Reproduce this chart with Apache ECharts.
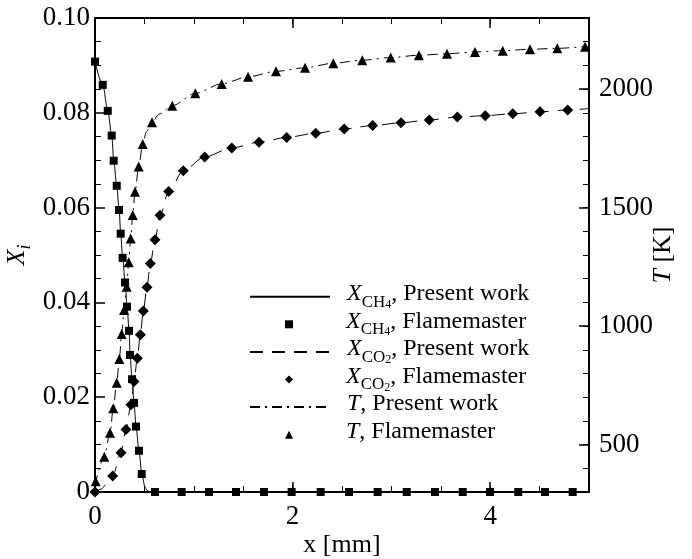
<!DOCTYPE html>
<html><head><meta charset="utf-8">
<script src="https://cdn.jsdelivr.net/npm/echarts@6/dist/echarts.min.js"></script>
<style>html,body{margin:0;padding:0;background:#fff}#c{width:692px;height:559px}</style>
</head><body><div id="c"></div>
<script>
// ---- data (x in mm) ----
const ch4PresentX = [0, 0.08, 0.13, 0.17, 0.19, 0.22, 0.245, 0.26, 0.28, 0.305, 0.325, 0.345, 0.355, 0.375, 0.395, 0.415, 0.445, 0.475, 0.505, 0.53, 0.56, 5];
const ch4PresentY = [0.0908, 0.0858, 0.0803, 0.0751, 0.0699, 0.0646, 0.0594, 0.0545, 0.0494, 0.0441, 0.0390, 0.0340, 0.0289, 0.0238, 0.0188, 0.0138, 0.0087, 0.0037, 0.0011, 0.0003, 0, 0];

const ch4FmX = [0, 0.078, 0.129, 0.169, 0.189, 0.22, 0.243, 0.26, 0.28, 0.304, 0.324, 0.344, 0.354, 0.375, 0.395, 0.415, 0.445, 0.473, 0.607, 0.877, 1.154, 1.427, 1.71, 1.99, 2.284, 2.571, 2.861, 3.155, 3.441, 3.722, 3.998, 4.284, 4.555, 4.835];
const ch4FmY = [0.0908, 0.0859, 0.0804, 0.0752, 0.0699, 0.0646, 0.0595, 0.0545, 0.0494, 0.0442, 0.0391, 0.0340, 0.0289, 0.0238, 0.0188, 0.0138, 0.0087, 0.0038, 0, 0, 0, 0, 0, 0, 0, 0, 0, 0, 0, 0, 0, 0, 0, 0];

const co2PresentX = [0, 0.06, 0.12, 0.179, 0.263, 0.314, 0.364, 0.395, 0.428, 0.459, 0.489, 0.526, 0.56, 0.607, 0.658, 0.746, 0.894, 1.11, 1.384, 1.66, 1.94, 2.234, 2.523, 2.81, 3.097, 3.383, 3.667, 3.95, 4.228, 4.504, 4.784, 5];
const co2PresentY = [0, 0.0006, 0.0017, 0.0034, 0.0083, 0.0132, 0.0184, 0.0233, 0.0282, 0.0332, 0.0382, 0.0432, 0.0482, 0.0532, 0.0584, 0.0634, 0.0678, 0.0707, 0.0726, 0.0738, 0.0748, 0.0757, 0.0766, 0.0773, 0.0779, 0.0785, 0.0791, 0.0794, 0.0798, 0.0802, 0.0806, 0.0809];

const co2FmX = [0, 0.179, 0.263, 0.314, 0.364, 0.395, 0.428, 0.459, 0.489, 0.526, 0.56, 0.607, 0.658, 0.746, 0.894, 1.11, 1.384, 1.66, 1.94, 2.234, 2.523, 2.81, 3.097, 3.383, 3.667, 3.95, 4.228, 4.504, 4.784];
const co2FmY = [0, 0.0034, 0.0083, 0.0132, 0.0184, 0.0233, 0.0282, 0.0332, 0.0382, 0.0432, 0.0482, 0.0532, 0.0584, 0.0634, 0.0678, 0.0707, 0.0726, 0.0738, 0.0748, 0.0757, 0.0766, 0.0773, 0.0779, 0.0785, 0.0791, 0.0794, 0.0798, 0.0802, 0.0806];

const tPresentX = [0, 0.094, 0.152, 0.185, 0.22, 0.246, 0.27, 0.294, 0.321, 0.341, 0.361, 0.382, 0.405, 0.442, 0.483, 0.52, 0.577, 0.65, 0.782, 1.015, 1.282, 1.549, 1.832, 2.126, 2.412, 2.705, 2.993, 3.279, 3.563, 3.846, 4.127, 4.403, 4.679, 5];
const tPresentY = [330, 449, 550, 653, 761, 861, 967, 1068, 1166, 1269, 1370, 1469, 1567, 1673, 1768, 1820, 1860, 1895, 1930, 1982, 2022, 2052, 2075, 2090, 2109, 2122, 2133, 2143, 2149, 2157, 2162, 2168, 2172, 2181];

const tFmX = [0.007, 0.094, 0.152, 0.185, 0.22, 0.246, 0.27, 0.294, 0.321, 0.341, 0.361, 0.382, 0.405, 0.442, 0.483, 0.577, 0.782, 1.015, 1.282, 1.549, 1.832, 2.126, 2.412, 2.705, 2.993, 3.279, 3.563, 3.846, 4.127, 4.403, 4.679, 4.96];
const tFmY = [345, 449, 550, 653, 761, 861, 967, 1068, 1166, 1269, 1370, 1469, 1567, 1673, 1768, 1860, 1930, 1982, 2022, 2052, 2075, 2090, 2109, 2122, 2133, 2143, 2149, 2157, 2162, 2168, 2172, 2179];

const xMajorTicks = [0, 2, 4];
const tMajorTicks = [500, 1000, 1500, 2000];

const seriesNames = ['ch4Present', 'ch4Fm', 'co2Present', 'co2Fm', 'tPresent', 'tFm'];
const legendLabels = {
  ch4Present: '{i|X}{s|CH}{ss|4}{t|, Present work}',
  ch4Fm: '{i|X}{s|CH}{ss|4}{t|, Flamemaster}',
  co2Present: '{i|X}{s|CO}{ss|2}{t|, Present work}',
  co2Fm: '{i|X}{s|CO}{ss|2}{t|, Flamemaster}',
  tPresent: '{i|T}{t|, Present work}',
  tFm: '{i|T}{t|, Flamemaster}'
};
const legendIsLine = [true, false, true, false, true, false];

const zip = (xs, ys) => xs.map((x, i) => [x, ys[i]]);
const FONT = 'Liberation Serif';
const black = '#000';

const chart = echarts.init(document.getElementById('c'), null, {renderer: 'canvas'});

const tickFont = {fontFamily: FONT, fontSize: 27, color: black};
const frameLine = () => ({show: true, onZero: false, lineStyle: {color: black, width: 2, opacity: 1}});
const hiddenLine = () => ({show: false, onZero: false});
const minorT = (len) => ({show: true, inside: true, length: len, lineStyle: {color: black, width: 1, opacity: 1}});
const majorT = (vals) => ({show: true, inside: true, length: 10, customValues: vals, lineStyle: {color: black, width: 1.5, opacity: 1}});

const legendRich = {
  i: {fontFamily: FONT, fontSize: 24, fontStyle: 'italic', color: black, verticalAlign: 'top', lineHeight: 30},
  t: {fontFamily: FONT, fontSize: 24, color: black, verticalAlign: 'top', lineHeight: 30},
  s: {fontFamily: FONT, fontSize: 17, color: black, verticalAlign: 'top', padding: [12, 0, 0, 0]},
  ss: {fontFamily: FONT, fontSize: 12, color: black, verticalAlign: 'top', padding: [17, 0, 0, 0]}
};
const rowCenter0 = 296.7, rowStep = 27.6, rowH = 30;
const legends = seriesNames.map((name, k) => {
  const isLine = legendIsLine[k];
  return {
    orient: 'vertical', padding: 0, itemGap: 0,
    left: isLine ? 249 : 285,
    top: rowCenter0 + k * rowStep - rowH / 2,
    itemWidth: isLine ? 80 : 8, itemHeight: 8, symbolKeepAspect: true,
    data: [isLine ? {name, itemStyle: {color: 'rgba(0,0,0,0)', borderWidth: 0, opacity: 0}} : name],
    formatter: n => legendLabels[n],
    textStyle: {fontFamily: FONT, fontSize: 24, color: black, padding: [0, 0, 0, isLine ? 12 : 48], rich: legendRich}
  };
});

const option = {
  animation: false,
  backgroundColor: '#fff',
  grid: {left: 95, right: 103, top: 18, bottom: 67, containLabel: false, outerBoundsMode: 'none'},
  legend: legends,
  xAxis: [
    {type: 'value', min: 0, max: 5, interval: 0.5, position: 'bottom',
     axisLine: frameLine(), axisTick: minorT(6),
     axisLabel: {show: true, customValues: xMajorTicks, formatter: v => String(v), margin: 11, ...tickFont},
     splitLine: {show: false},
     name: 'x [mm]', nameLocation: 'middle', nameGap: 40, nameMoveOverlap: false,
     nameTextStyle: {fontFamily: FONT, fontSize: 26, color: black}},
    {type: 'value', min: 0, max: 5, position: 'bottom',
     axisLine: hiddenLine(), axisTick: majorT(xMajorTicks),
     axisLabel: {show: false}, splitLine: {show: false}},
    {type: 'value', min: 0, max: 5, interval: 0.5, position: 'top',
     axisLine: frameLine(), axisTick: minorT(6),
     axisLabel: {show: false}, splitLine: {show: false}},
    {type: 'value', min: 0, max: 5, position: 'top',
     axisLine: hiddenLine(), axisTick: majorT(xMajorTicks),
     axisLabel: {show: false}, splitLine: {show: false}}
  ],
  yAxis: [
    {type: 'value', min: 0, max: 0.1, interval: 0.02, position: 'left',
     axisLine: frameLine(),
     axisTick: {show: true, inside: true, length: 10, lineStyle: {color: black, width: 1.5, opacity: 1}},
     minorTick: {show: true, splitNumber: 4, length: 6, lineStyle: {color: black, width: 1, opacity: 1}},
     axisLabel: {show: true, formatter: v => (v === 0 ? '0' : v.toFixed(2)), margin: 5, ...tickFont},
     splitLine: {show: false}, minorSplitLine: {show: false},
     name: '{i|X}{s|i}', nameLocation: 'middle', nameRotate: 90, nameGap: 61, nameMoveOverlap: false,
     nameTextStyle: {fontFamily: FONT, fontSize: 26, color: black,
       rich: {i: {fontFamily: FONT, fontSize: 26, fontStyle: 'italic', color: black, verticalAlign: 'top', lineHeight: 28},
              s: {fontFamily: FONT, fontSize: 18, fontStyle: 'italic', color: black, verticalAlign: 'top', padding: [12, 0, 0, 0]}}}},
    {type: 'value', min: 300, max: 2300, interval: 100, position: 'right',
     axisLine: frameLine(), axisTick: minorT(6),
     axisLabel: {show: true, customValues: tMajorTicks, formatter: v => String(v), margin: 10, ...tickFont},
     splitLine: {show: false},
     name: '{i|T}{t| [K]}', nameLocation: 'middle', nameRotate: 90, nameGap: 61, nameMoveOverlap: false,
     nameTextStyle: {fontFamily: FONT, fontSize: 26, color: black,
       rich: {i: {fontFamily: FONT, fontSize: 26, fontStyle: 'italic', color: black},
              t: {fontFamily: FONT, fontSize: 26, color: black}}}},
    {type: 'value', min: 300, max: 2300, position: 'right',
     axisLine: hiddenLine(), axisTick: majorT(tMajorTicks),
     axisLabel: {show: false}, splitLine: {show: false}}
  ],
  series: [
    {name: 'ch4Present', type: 'line', xAxisIndex: 0, yAxisIndex: 0, data: zip(ch4PresentX, ch4PresentY),
     symbol: 'none', smooth: 0.3, smoothMonotone: 'x', lineStyle: {color: black, width: 1, type: 'solid'}, itemStyle: {color: black}, z: 3},
    {name: 'ch4Fm', type: 'scatter', xAxisIndex: 0, yAxisIndex: 0, data: zip(ch4FmX, ch4FmY),
     symbol: 'rect', symbolSize: 8, symbolKeepAspect: true, itemStyle: {color: black, opacity: 1}, z: 4},
    {name: 'co2Present', type: 'line', xAxisIndex: 0, yAxisIndex: 0, data: zip(co2PresentX, co2PresentY),
     symbol: 'none', smooth: 0.3, smoothMonotone: 'x', lineStyle: {color: black, width: 1, type: [13, 9]}, itemStyle: {color: black}, z: 3},
    {name: 'co2Fm', type: 'scatter', xAxisIndex: 0, yAxisIndex: 0, data: zip(co2FmX, co2FmY),
     symbol: 'diamond', symbolSize: 11, symbolKeepAspect: true, itemStyle: {color: black, opacity: 1}, z: 4},
    {name: 'tPresent', type: 'line', xAxisIndex: 0, yAxisIndex: 1, data: zip(tPresentX, tPresentY),
     symbol: 'none', smooth: 0.3, smoothMonotone: 'x', lineStyle: {color: black, width: 1, type: [10, 5, 2, 5]}, itemStyle: {color: black}, z: 3},
    {name: 'tFm', type: 'scatter', xAxisIndex: 0, yAxisIndex: 1, data: zip(tFmX, tFmY),
     symbol: 'triangle', symbolSize: 10, symbolKeepAspect: true, itemStyle: {color: black, opacity: 1}, z: 4}
  ]
};
chart.setOption(option);
</script>
</body></html>
